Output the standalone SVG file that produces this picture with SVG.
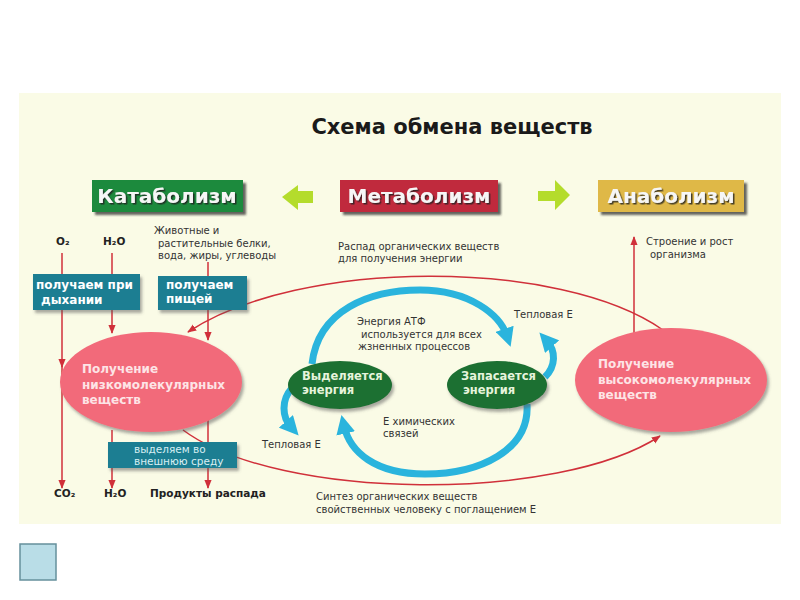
<svg xmlns="http://www.w3.org/2000/svg" width="800" height="600" viewBox="0 0 800 600">
<style>
.t{font-family:"DejaVu Sans","Noto Sans",sans-serif;font-size:10px;fill:#333}
.b{font-family:"DejaVu Sans","Noto Sans",sans-serif;font-weight:bold;fill:#222;font-size:10.5px}
.bx{font-family:"DejaVu Sans","Noto Sans",sans-serif;font-weight:bold;fill:#fff;font-size:12px}
.bl{font-family:"DejaVu Sans","Noto Sans",sans-serif;fill:#d8eef2;font-size:10.5px}
.el{font-family:"DejaVu Sans","Noto Sans",sans-serif;font-weight:bold;fill:#fde4e6;font-size:12px}
.ge{font-family:"DejaVu Sans","Noto Sans",sans-serif;font-weight:bold;fill:#e6f4dc;font-size:11.5px}
.hd{font-family:"DejaVu Sans","Noto Sans",sans-serif;font-weight:bold;fill:#f6f6f6;font-size:20px}
.teal{fill:#1c7e92}
.red{stroke:#d0303a;stroke-width:1.5;fill:none}
.cy{stroke:#2ab4dd;stroke-width:7;fill:none}
</style>
<defs>
<filter id="sh" x="-20%" y="-20%" width="150%" height="160%"><feDropShadow dx="3" dy="3" stdDeviation="1.2" flood-color="#222" flood-opacity="0.7"/></filter>
<filter id="sh2" x="-20%" y="-20%" width="150%" height="160%"><feDropShadow dx="2" dy="3" stdDeviation="1.5" flood-color="#555" flood-opacity="0.5"/></filter>
<filter id="ts" x="-10%" y="-20%" width="120%" height="150%"><feDropShadow dx="1.5" dy="1.5" stdDeviation="0.6" flood-color="#222" flood-opacity="0.8"/></filter>
<marker id="ra" viewBox="0 0 10 10" refX="9" refY="5" markerWidth="6" markerHeight="6" orient="auto"><path d="M0,1 L10,5 L0,9 z" fill="#d0303a"/></marker>
<marker id="ca" viewBox="0 0 10 10" refX="4" refY="5" markerWidth="19" markerHeight="19" markerUnits="userSpaceOnUse" orient="auto"><path d="M0,0 L10,5 L0,10 z" fill="#2ab4dd"/></marker>
</defs>
<rect x="0" y="0" width="800" height="600" fill="#fff"/>
<rect x="19" y="93" width="762" height="431" fill="#fafbe6"/>
<text x="452" y="134" text-anchor="middle" font-family="DejaVu Sans, sans-serif" font-weight="bold" font-size="21" fill="#1a1a1a">Схема обмена веществ</text>

<g id="header-catabolism"><rect x="92" y="180" width="151" height="32" fill="#1e8a3c" filter="url(#sh)"/><text class="hd" x="167" y="203" text-anchor="middle" filter="url(#ts)">Катаболизм</text></g>
<g id="header-metabolism"><rect x="340" y="180" width="158" height="32" fill="#c02a3c" filter="url(#sh)"/><text class="hd" x="419" y="203" text-anchor="middle" filter="url(#ts)">Метаболизм</text></g>
<g id="header-anabolism"><rect x="598" y="180" width="146" height="32" fill="#dfb846" filter="url(#sh)"/><text class="hd" x="671" y="203" text-anchor="middle" filter="url(#ts)">Анаболизм</text></g>
<g id="arrows-header" fill="#b4dc2c">
<polygon points="282,197 298,185 298,191 313,191 313,203 298,203 298,210"/>
<polygon points="538,191 555,191 555,180 570,195 555,210 555,201 538,201"/>
</g>

<g id="connectors">
<path class="red" d="M62 253 V367" marker-end="url(#ra)"/>
<path class="red" d="M62 366 V488" marker-end="url(#ra)"/>
<path class="red" d="M112 253 V333" marker-end="url(#ra)"/>
<path class="red" d="M112 430 V488" marker-end="url(#ra)"/>
<path class="red" d="M208 262 V340" marker-end="url(#ra)"/>
<path class="red" d="M208 420 V488" marker-end="url(#ra)"/>
<path class="red" d="M634 333 V237" marker-end="url(#ra)"/>
<path class="red" d="M663 330 C560 258, 300 258, 188 332" marker-end="url(#ra)"/>
<path class="red" d="M183 430 C280 502, 560 502, 660 436" marker-end="url(#ra)"/>
<path class="cy" d="M312 364 C318 310, 370 290, 420 290 C470 290, 500 315, 507 336" marker-end="url(#ca)"/>
<path class="cy" d="M527 404 C530 450, 480 474, 425 474 C375 474, 350 452, 344 426" marker-end="url(#ca)"/>
<path class="cy" d="M292 388 C281 400, 282 417, 291 427" marker-end="url(#ca)"/>
<path class="cy" d="M545 377 C556 366, 556 351, 547 341" marker-end="url(#ca)"/>
</g>

<g id="box-breathing"><rect class="teal" x="33" y="274" width="107" height="36" filter="url(#sh2)"/><text class="bx" x="36" y="289">получаем при</text><text class="bx" x="41" y="304">дыхании</text></g>
<g id="box-food"><rect class="teal" x="158" y="276" width="89" height="34" filter="url(#sh2)"/><text class="bx" x="166" y="289">получаем</text><text class="bx" x="166" y="303">пищей</text></g>
<g id="box-excrete"><rect class="teal" x="108" y="442" width="129" height="26" filter="url(#sh2)"/><text class="bl" x="134" y="453">выделяем во</text><text class="bl" x="134" y="465">внешнюю среду</text></g>

<g id="ellipse-low"><ellipse cx="151" cy="382" rx="91" ry="50" fill="#f26b7a" filter="url(#sh2)"/><text class="el" x="82" y="373">Получение</text><text class="el" x="82" y="389">низкомолекулярных</text><text class="el" x="82" y="404">веществ</text></g>
<g id="ellipse-high"><ellipse cx="671" cy="380" rx="96" ry="52" fill="#f26b7a" filter="url(#sh2)"/><text class="el" x="598" y="368">Получение</text><text class="el" x="598" y="384">высокомолекулярных</text><text class="el" x="598" y="399">веществ</text></g>
<g id="ellipse-release"><ellipse cx="340" cy="385" rx="52" ry="24" fill="#1d6f33" filter="url(#sh2)"/><text class="ge" x="302" y="380">Выделяется</text><text class="ge" x="302" y="394">энергия</text></g>
<g id="ellipse-store"><ellipse cx="497" cy="385" rx="50" ry="24" fill="#1d6f33" filter="url(#sh2)"/><text class="ge" x="461" y="380">Запасается</text><text class="ge" x="463" y="394">энергия</text></g>

<g id="labels">
<text class="b" x="56" y="245">O₂</text>
<text class="b" x="103" y="245">H₂O</text>
<text class="t" x="154" y="234">Животные и</text>
<text class="t" x="158" y="247">растительные белки,</text>
<text class="t" x="158" y="259">вода, жиры, углеводы</text>
<text class="t" x="338" y="250">Распад органических веществ</text>
<text class="t" x="338" y="262">для получения энергии</text>
<text class="t" x="646" y="245">Строение и рост</text>
<text class="t" x="650" y="258">организма</text>
<text class="t" x="357" y="325">Энергия АТФ</text>
<text class="t" x="361" y="338">используется для всех</text>
<text class="t" x="358" y="350">жзненных процессов</text>
<text class="t" x="383" y="425">Е химических</text>
<text class="t" x="383" y="437">связей</text>
<text class="t" x="262" y="448">Тепловая Е</text>
<text class="t" x="514" y="318">Тепловая Е</text>
<text class="b" x="54" y="497">CO₂</text>
<text class="b" x="104" y="497">H₂O</text>
<text class="b" x="150" y="497">Продукты распада</text>
<text class="t" x="316" y="500">Синтез органических веществ</text>
<text class="t" x="316" y="513">свойственных человеку с поглащением Е</text>
</g>
<rect x="20" y="544" width="36" height="36" fill="#b9dde7" stroke="#66909c" stroke-width="1.5"/>
</svg>
